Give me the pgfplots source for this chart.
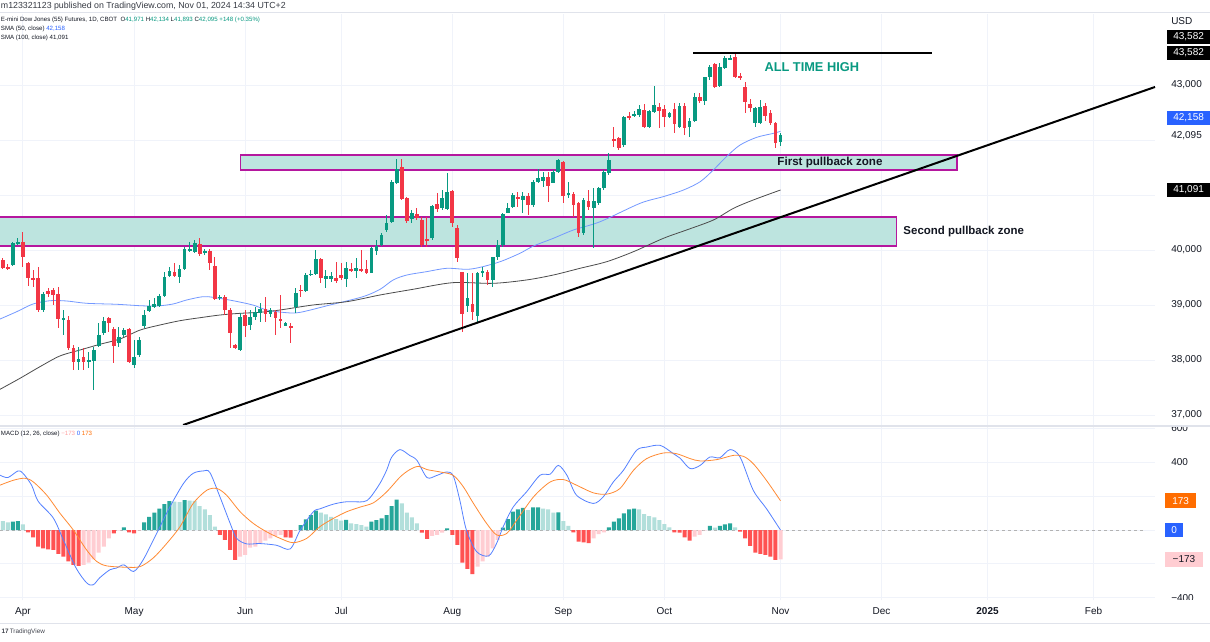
\documentclass[border=0pt]{standalone}
\usepackage{pgfplots}
\pgfplotsset{compat=1.18}
\usepackage{pgfplotstable}
\usepackage{fontspec}
\setmainfont{Liberation Sans}

\definecolor{up}{HTML}{089981}
\definecolor{dn}{HTML}{F23645}
\definecolor{hdk}{HTML}{26A69A}
\definecolor{hlt}{HTML}{B2DFDB}
\definecolor{hrd}{HTML}{FF5252}
\definecolor{hpk}{HTML}{FFCDD2}
\definecolor{mblue}{HTML}{2962FF}
\definecolor{morange}{HTML}{FF6D00}
\definecolor{gridc}{HTML}{F0F3FA}
\definecolor{txt}{HTML}{131722}
\definecolor{zfill}{HTML}{BDE4DF}
\definecolor{zedge}{HTML}{B5179E}
\definecolor{sepc}{HTML}{E0E3EB}

% daily candles, x = trading-day index (0 = 1 Apr 2024)
\pgfplotstableread{
i o h l c
-4 39818 39855 39655 39678
-3 39697 39740 39636 39655
-2 39727 40151 39709 40122
-1 40109 40213 40091 40151
0 40140 40333 39697 39867
1 39769 39787 39345 39485
2 39496 39636 39327 39455
3 39485 39697 38878 38909
4 38909 39242 38878 39200
5 39260 39303 39151 39200
6 39273 39309 39000 39182
7 39200 39321 38576 38745
8 38720 38910 38455 38760
9 38727 38800 38182 38213
10 38213 38273 37818 37958
11 37958 38242 37818 38024
12 38060 38218 37818 37958
13 37982 38151 37849 38000
14 37982 38242 37455 38182
15 38260 38667 38242 38455
16 38485 38788 38455 38709
17 38758 38788 38515 38667
18 38564 38606 37940 38260
19 38315 38606 38242 38424
20 38455 38582 38424 38545
21 38564 38582 37940 37958
22 37909 38364 37849 38060
23 38091 38424 38060 38364
24 38618 38909 38582 38818
25 38897 39091 38879 38982
26 38958 39127 38940 39013
27 38982 39194 38970 39170
28 39170 39606 39151 39515
29 39527 39697 39515 39624
30 39606 39769 39515 39527
31 39515 39727 39394 39655
32 39655 40060 39636 40018
33 39990 40151 39970 40020
34 39970 40182 39940 40122
35 40109 40212 39891 39927
36 39940 40018 39909 39988
37 39988 40018 39636 39758
38 39709 39867 39091 39109
39 39122 39182 39091 39151
40 39151 39182 38818 38909
41 38909 38945 38213 38497
42 38273 38291 38194 38213
43 38182 38849 38170 38788
44 38818 38909 38424 38624
45 38636 38909 38545 38776
46 38776 38970 38727 38879
47 38849 39030 38697 38927
48 38927 39151 38697 38831
49 38831 38940 38788 38909
50 38879 38909 38455 38770
51 38745 39182 38576 38727
52 38624 38691 38618 38667
53 38624 38667 38303 38588
54 38958 39303 38849 39212
55 39273 39364 39151 39260
56 39260 39576 39242 39545
57 39551 39636 39527 39564
58 39564 40000 39545 39831
59 39831 39849 39394 39497
60 39467 39636 39303 39527
61 39467 39606 39424 39527
62 39485 39788 39394 39442
63 39539 39758 39455 39497
64 39473 39788 39333 39667
65 39649 39758 39606 39624
66 39624 39849 39485 39679
67 39655 40000 39606 39624
68 39649 39818 39564 39576
69 39588 40060 39576 40030
70 39988 40182 39909 40073
71 40091 40303 40073 40273
72 40364 40636 40333 40485
73 40515 41273 40485 41242
74 41218 41655 41209 41473
75 41515 41649 40909 40922
76 40945 40964 40491 40527
77 40564 40727 40485 40673
78 40655 40758 40545 40582
79 40545 40606 40060 40091
80 40194 40606 40060 40182
81 40218 40818 40182 40800
82 40836 41030 40697 40745
83 40764 41091 40727 40945
84 40745 41394 40727 41061
85 41079 41091 40424 40485
86 40406 40455 39788 39849
87 39594 39606 38515 38836
88 38987 39576 38879 39127
89 39013 39576 38727 38879
90 38800 39606 38667 39588
91 39588 39697 39515 39618
92 39606 39636 39364 39455
93 39455 39879 39333 39879
94 39867 40182 39818 40091
95 40091 40667 40060 40655
96 40679 40848 40667 40758
97 40788 41030 40758 41000
98 40958 41061 40788 40922
99 40909 41061 40667 40982
100 40982 41030 40636 40818
101 40818 41273 40788 41242
102 41242 41467 41212 41303
103 41261 41424 41151 41333
104 41321 41424 40879 41164
105 41224 41455 41212 41424
106 41412 41655 41394 41636
107 41594 41624 40848 40987
108 41000 41242 40939 41030
109 41012 41061 40606 40818
110 40861 40879 40242 40303
111 40315 40939 40280 40909
112 40891 41091 40727 40788
113 40758 41121 40030 40897
114 40848 41151 40818 41121
115 41127 41455 41091 41418
116 41394 41758 41364 41636
117 42018 42230 41879 42000
118 42030 42055 41818 41849
119 41909 42436 41873 42424
120 42436 42515 42364 42406
121 42449 42533 42424 42473
122 42455 42636 42424 42564
123 42545 42655 42212 42242
124 42242 42545 42212 42527
125 42515 42982 42485 42636
126 42606 42667 42212 42533
127 42558 42636 42242 42424
128 42424 42515 42394 42497
129 42564 42667 42121 42291
130 42242 42667 42212 42618
131 42618 42667 42091 42212
132 42230 42394 42061 42345
133 42345 42848 42333 42788
134 42788 42848 42679 42715
135 42709 43151 42636 43140
136 43140 43364 43091 43333
137 43382 43406 42940 42970
138 42982 43394 42970 43333
139 43303 43527 43285 43485
140 43467 43545 43455 43485
141 43515 43582 43121 43140
142 43164 43212 43091 43140
143 42970 43061 42485 42697
144 42655 42739 42515 42576
145 42303 42606 42242 42576
146 42303 42727 42291 42594
147 42618 42667 42352 42436
148 42497 42545 42273 42315
149 42303 42333 41849 41947
150 41971 42134 41893 42095
}\candle

% MACD histogram, k: 0 rising>0, 1 falling>0, 2 falling<0, 3 rising<0
\pgfplotstableread{
i v k
-4 53 1
-3 45 1
-2 49 0
-1 53 0
0 33 1
1 -14 2
2 -43 2
3 -98 2
4 -108 2
5 -114 2
6 -118 2
7 -141 2
8 -157 2
9 -186 2
10 -206 2
11 -212 2
12 -206 3
13 -192 3
14 -173 3
15 -133 3
16 -98 3
17 -49 3
18 -20 2
19 -2 3
20 16 0
21 -14 2
22 -20 2
23 -2 3
24 45 0
25 78 0
26 102 0
27 127 0
28 153 0
29 170 0
30 167 1
31 165 1
32 176 0
33 174 1
34 172 1
35 141 1
36 122 1
37 88 1
38 20 1
39 -29 2
40 -59 2
41 -118 2
42 -176 2
43 -157 3
44 -147 3
45 -104 3
46 -98 3
47 -78 3
48 -63 3
49 -49 3
50 -35 3
51 -29 3
52 -43 2
53 -45 2
54 -2 3
55 29 0
56 63 0
57 88 0
58 114 0
59 102 1
60 92 1
61 78 1
62 65 1
63 55 1
64 60 0
65 39 1
66 35 1
67 29 1
68 20 1
69 49 0
70 59 0
71 69 0
72 88 0
73 141 0
74 180 0
75 157 1
76 102 1
77 75 1
78 39 1
79 -16 2
80 -53 2
81 -35 3
82 -29 3
83 -16 3
84 10 0
85 -29 2
86 -88 2
87 -192 2
88 -229 2
89 -261 2
90 -216 3
91 -186 3
92 -157 3
93 -108 3
94 -59 3
95 14 0
96 65 0
97 108 0
98 122 0
99 131 0
100 118 1
101 133 0
102 134 0
103 127 1
104 122 1
105 102 1
106 104 0
107 53 1
108 24 1
109 -14 2
110 -69 2
111 -73 2
112 -78 2
113 -49 3
114 -24 3
115 -14 3
116 16 0
117 49 0
118 69 0
119 98 0
120 122 0
121 127 0
122 122 1
123 94 1
124 82 1
125 75 1
126 59 1
127 35 1
128 16 1
129 -14 2
130 -16 2
131 -43 2
132 -63 2
133 -39 3
134 -29 3
135 -2 3
136 24 0
137 14 1
138 24 0
139 33 0
140 39 0
141 16 1
142 -10 2
143 -49 2
144 -94 2
145 -133 2
146 -141 2
147 -147 2
148 -157 2
149 -176 2
150 -173 3
}\hist

\begin{document}
\begin{tikzpicture}
\path[use as bounding box, fill=white] (0,0) rectangle (907.5pt,-481.5pt);

% ---------------- price pane ----------------
\begin{axis}[
  at={(0pt,-10.5pt)}, anchor=north west,
  scale only axis, width=866.25pt, height=308.25pt,
  xmin=-4.554, xmax=224.16, ymin=36818, ymax=44291,
  clip=false,
  axis line style={draw=none},
  major tick length=0pt,
  scaled y ticks=false,
  xtick={0,22,44,63,85,107,127,150,170,191,212},
  xticklabels={{},{},{},{},{},{},{},{},{},{},{}},
  ytick={37000,38000,39000,40000,41000,42000,43000},
  yticklabels={{37,000},{38,000},{39,000},{40,000},{},{},{43,000}},
  yticklabel pos=right,
  yticklabel style={anchor=west, inner sep=0pt, xshift=12pt,
    font=\fontsize{7.5}{8}\selectfont, text=txt},
  grid=major,
  major grid style={draw=gridc, line width=0.75pt},
]
% pullback zones
\addplot[fill=zfill, draw=zedge, line width=0.9pt]
  coordinates {(43,41455) (184.95,41455) (184.95,41727) (43,41727) (43,41455)};
\addplot[fill=zfill, draw=zedge, line width=0.9pt]
  coordinates {(-4.9,40073) (172.9,40073) (172.9,40600) (-4.9,40600) (-4.9,40073)};

% moving averages
\addplot[color=mblue!65, line width=0.6pt, smooth] coordinates {
(-4.55,38745) (-1.25,38878) (1.98,39018) (5.35,39078) (8.65,39073) (12.6,39031)
(18.55,39013) (23.2,38987) (26.5,38982) (29.7,39018) (32.4,39091) (35.6,39151)
(37.6,39140) (41.6,39078) (45.5,39000) (48.3,38909) (52.2,38860) (54.9,38867)
(60.8,39000) (67.3,39151) (70.7,39285) (73.3,39455) (76,39545) (79.9,39606)
(83.9,39667) (87.9,39649) (90.5,39685) (94.5,39788) (98.4,39940) (101.1,40073)
(105,40212) (109,40364) (114.3,40515) (122.2,40849) (126.8,40970)
(130.8,41091) (134.1,41242) (136.7,41455) (139.3,41697) (142,41909) (145.3,42049)
(148.6,42121) (150,42158)};
\addplot[color=black!70, line width=0.6pt, smooth] coordinates {
(-4.55,37467) (-0.6,37667) (3.37,37879) (7.3,38073) (11.3,38182) (15.2,38285)
(19.2,38382) (23.2,38545) (27.1,38636) (31.1,38715) (35.05,38769) (39,38818)
(43,38849) (46.9,38867) (50.9,38909) (57.4,39000) (64.1,39060) (70.7,39182)
(77.2,39285) (85.1,39406) (93.1,39394) (99.7,39455) (105,39545) (110.3,39667)
(115.6,39788) (120.9,39970) (126.8,40212) (131.4,40364) (136.7,40545) (140.7,40758)
(144.6,40909) (150,41091)};

% candle wicks
\addplot[draw=none, mark=none, forget plot,
  error bars/.cd, y dir=both, y explicit, error mark=none,
  error bar style={draw=up, line width=0.75pt}]
  table[x=i, y expr={(\thisrow{h}+\thisrow{l})/2}, y error expr={(\thisrow{h}-\thisrow{l})/2},
        restrict expr to domain={\thisrow{c}-\thisrow{o}}{0:100000}] {\candle};
\addplot[draw=none, mark=none, forget plot,
  error bars/.cd, y dir=both, y explicit, error mark=none,
  error bar style={draw=dn, line width=0.75pt}]
  table[x=i, y expr={(\thisrow{h}+\thisrow{l})/2}, y error expr={(\thisrow{h}-\thisrow{l})/2},
        restrict expr to domain={\thisrow{c}-\thisrow{o}}{-100000:-0.5}] {\candle};
% candle bodies
\addplot[draw=none, mark=none, forget plot,
  error bars/.cd, y dir=both, y explicit, error mark=none,
  error bar style={draw=up, line width=2.8pt}]
  table[x=i, y expr={(\thisrow{o}+\thisrow{c})/2}, y error expr={max(abs(\thisrow{c}-\thisrow{o})/2,9)},
        restrict expr to domain={\thisrow{c}-\thisrow{o}}{0:100000}] {\candle};
\addplot[draw=none, mark=none, forget plot,
  error bars/.cd, y dir=both, y explicit, error mark=none,
  error bar style={draw=dn, line width=2.8pt}]
  table[x=i, y expr={(\thisrow{o}+\thisrow{c})/2}, y error expr={max(abs(\thisrow{c}-\thisrow{o})/2,9)},
        restrict expr to domain={\thisrow{c}-\thisrow{o}}{-100000:-0.5}] {\candle};

% trend line and all time high
\addplot[black, line width=1.5pt] coordinates {(31.7,36818) (224.16,42964)};
\addplot[black, line width=1.2pt] coordinates {(132.7,43582) (180,43582)};

\node[font=\bfseries\fontsize{9.6}{11}\selectfont, text=up] at (axis cs:156.2,43327) {ALL TIME HIGH};
\node[font=\bfseries\fontsize{8.7}{10}\selectfont, text=txt] at (axis cs:159.8,41582) {First pullback zone};
\node[anchor=west, inner sep=0pt, font=\bfseries\fontsize{8.6}{10}\selectfont, text=txt]
  at (axis cs:174.3,40327) {Second pullback zone};

% price scale tags
\tikzset{tag/.style={anchor=west, inner sep=0pt, minimum height=11pt, text=white,
  font=\fontsize{7.5}{8}\selectfont}}
\node[anchor=west, inner sep=0pt, xshift=12pt, font=\fontsize{7.5}{8}\selectfont, text=txt]
  at (axis cs:224.16,44164) {USD};
\node[tag, fill=black, minimum width=33pt, xshift=8.5pt] at (axis cs:224.16,43873) {43,582};
\node[tag, fill=black, minimum width=33pt, xshift=8.5pt] at (axis cs:224.16,43582) {43,582};
\node[tag, fill=mblue, minimum width=33pt, xshift=8.5pt] at (axis cs:224.16,42400) {42,158};
\node[anchor=west, inner sep=0pt, xshift=12pt, font=\fontsize{7.5}{8}\selectfont, text=txt]
  at (axis cs:224.16,42073) {42,095};
\node[tag, fill=black, minimum width=33pt, xshift=8.5pt] at (axis cs:224.16,41091) {41,091};
\end{axis}

% ---------------- MACD pane ----------------
\begin{axis}[
  at={(0pt,-320.25pt)}, anchor=north west,
  scale only axis, width=866.25pt, height=129.75pt,
  xmin=-4.554, xmax=224.16, ymin=-413.6, ymax=608.6,
  clip=false,
  axis line style={draw=none},
  major tick length=0pt,
  scaled y ticks=false,
  xtick={0,22,44,63,85,107,127,150,170,191,212},
  xticklabels={Apr,May,Jun,Jul,Aug,Sep,Oct,Nov,Dec,\textbf{2025},Feb},
  xticklabel style={yshift=-2pt, font=\fontsize{7.5}{8}\selectfont, text=txt},
  ytick={-400,-200,0,200,400,600},
  yticklabels={{−400},{},{},{},{400},{600}},
  yticklabel pos=right,
  yticklabel style={anchor=west, inner sep=0pt, xshift=12pt,
    font=\fontsize{7.5}{8}\selectfont, text=txt},
  grid=major,
  major grid style={draw=gridc, line width=0.75pt},
]
\addplot[color=black!30, line width=0.5pt, dash pattern=on 2.5pt off 2pt]
  coordinates {(-4.554,0) (222,0)};

\addplot[ybar, bar shift=0pt, bar width=3pt, fill=hdk, draw=none]
  table[x=i, y=v, restrict expr to domain={\thisrow{k}}{-0.5:0.5}] {\hist};
\addplot[ybar, bar shift=0pt, bar width=3pt, fill=hlt, draw=none]
  table[x=i, y=v, restrict expr to domain={\thisrow{k}}{0.5:1.5}] {\hist};
\addplot[ybar, bar shift=0pt, bar width=3pt, fill=hrd, draw=none]
  table[x=i, y=v, restrict expr to domain={\thisrow{k}}{1.5:2.5}] {\hist};
\addplot[ybar, bar shift=0pt, bar width=3pt, fill=hpk, draw=none]
  table[x=i, y=v, restrict expr to domain={\thisrow{k}}{2.5:3.5}] {\hist};

% MACD line
\addplot[color=mblue!80, line width=0.6pt, smooth] coordinates {
(-4.55,324) (-3,310) (-1,349) (0,335) (1.7,265) (3,170) (6,71) (8,-59) (10.5,-224)
(12.6,-312) (13.9,-324) (15.2,-282) (17.2,-235) (18.5,-225) (20,-206) (21.9,-245)
(23.8,-176) (26.5,-18) (29.1,137) (31.8,276) (33.7,335) (35.7,349) (37,340) (39,196)
(41,41) (42.3,-49) (44.3,-82) (46.9,-80) (50.2,-90) (52.9,-112) (54.9,0) (57.5,108)
(58.8,125) (61.5,153) (64.1,167) (67.4,167) (68.7,190) (70.7,276) (72,353) (73,430)
(74.65,475) (76.6,440) (78,412) (80,310) (81.9,322) (83.9,343) (85.2,320) (86.5,176)
(87.8,0) (89.8,-127) (92.2,-153) (93.8,-78) (95.1,20) (97.1,137) (99.7,225) (102.4,324)
(104.4,330) (106,382) (107.7,324) (109.6,206) (112.9,157) (114.9,196) (116.9,284)
(118.9,353) (121.5,471) (123.5,490) (126.2,500) (128.8,451) (130.1,425) (132.1,363)
(134.1,382) (136,431) (138,427) (140,475) (142,431) (144.6,235) (147.2,127) (150,0)};
% signal line
\addplot[color=morange!80, line width=0.6pt, smooth] coordinates {
(-4.55,265) (-1.9,294) (0.4,306) (2.05,284) (4.7,206) (7.3,100) (9.96,0) (12.6,-118)
(14.6,-186) (16.6,-212) (20.5,-220) (23.2,-216) (25.8,-165) (28.5,-78) (31.1,20)
(33.7,157) (36.4,235) (38.4,245) (40.3,206) (43,108) (45.6,39) (48.2,-10) (50.9,-49)
(53.5,-75) (56.2,-49) (58.8,20) (61.5,69) (64.1,108) (66.7,135) (69.4,161) (72,225)
(74.7,314) (76.6,357) (78.3,376) (80,357) (82.6,343) (85.2,323) (87.2,255) (89.2,157)
(91.8,39) (93.8,-29) (95.8,-20) (97.8,59) (101.1,196) (104.4,284) (107,298) (109.6,265)
(112.9,220) (115.6,212) (118.2,245) (120.9,353) (123.5,422) (126.8,455) (129.4,451)
(132.1,422) (134.1,408) (137.4,416) (140.7,441) (142.7,435) (144.6,392) (147.2,294)
(150,173)};

\tikzset{mtag/.style={anchor=west, inner sep=0pt, minimum height=11pt,
  font=\fontsize{7.5}{8}\selectfont, xshift=7.5pt}}
\node[mtag, fill=morange, text=white, minimum width=23pt] at (axis cs:224.16,173) {173};
\node[mtag, fill=mblue, text=white, minimum width=13.5pt] at (axis cs:224.16,0) {0};
\node[mtag, fill=hpk, text=txt, minimum width=28pt] at (axis cs:224.16,-173) {−173};
\end{axis}

% pane separators and frame lines
\fill[white] (866.25pt,-314pt) rectangle (907.5pt,-319.6pt);
\draw[sepc, line width=1.5pt] (0,-319.5pt) -- (907.5pt,-319.5pt);
\fill[white] (866.25pt,-450.3pt) rectangle (907.5pt,-455pt);
\draw[sepc, line width=0.75pt] (0,-9.75pt) -- (907.5pt,-9.75pt);
\draw[sepc, line width=0.75pt] (0,-467.25pt) -- (907.5pt,-467.25pt);

% header and legends
\node[anchor=west, inner sep=0pt, font=\fontsize{6.6}{8}\selectfont, text=txt!85]
  at (0.5pt,-4.6pt) {m123321123 published on TradingView.com, Nov 01, 2024 14:34 UTC+2};
\node[anchor=west, inner sep=0pt, font=\fontsize{4.6}{6}\selectfont, text=txt]
  at (0.5pt,-15.3pt) {E-mini Dow Jones (55) Futures, 1D, CBOT\ \
  O\textcolor{up}{41,971}\ H\textcolor{up}{42,134}\
  L\textcolor{up}{41,893}\ C\textcolor{up}{42,095}\
  \textcolor{up}{+148 (+0.35\%)}};
\node[anchor=west, inner sep=0pt, font=\fontsize{4.6}{6}\selectfont, text=txt]
  at (0.5pt,-21.8pt) {SMA (50, close)\ \textcolor{mblue}{42,158}};
\node[anchor=west, inner sep=0pt, font=\fontsize{4.6}{6}\selectfont, text=txt]
  at (0.5pt,-28.2pt) {SMA (100, close)\ 41,091};
\node[anchor=west, inner sep=0pt, font=\fontsize{4.6}{6}\selectfont, text=txt]
  at (0.5pt,-325.5pt) {MACD (12, 26, close)\ \textcolor{hrd!55}{−173}\
  \textcolor{mblue}{0}\ \textcolor{morange}{173}};
\node[anchor=west, inner sep=0pt, font=\fontsize{4.8}{6}\selectfont, text=txt!80]
  at (1pt,-474pt) {\textbf{17}\,TradingView};
\end{tikzpicture}
\end{document}
